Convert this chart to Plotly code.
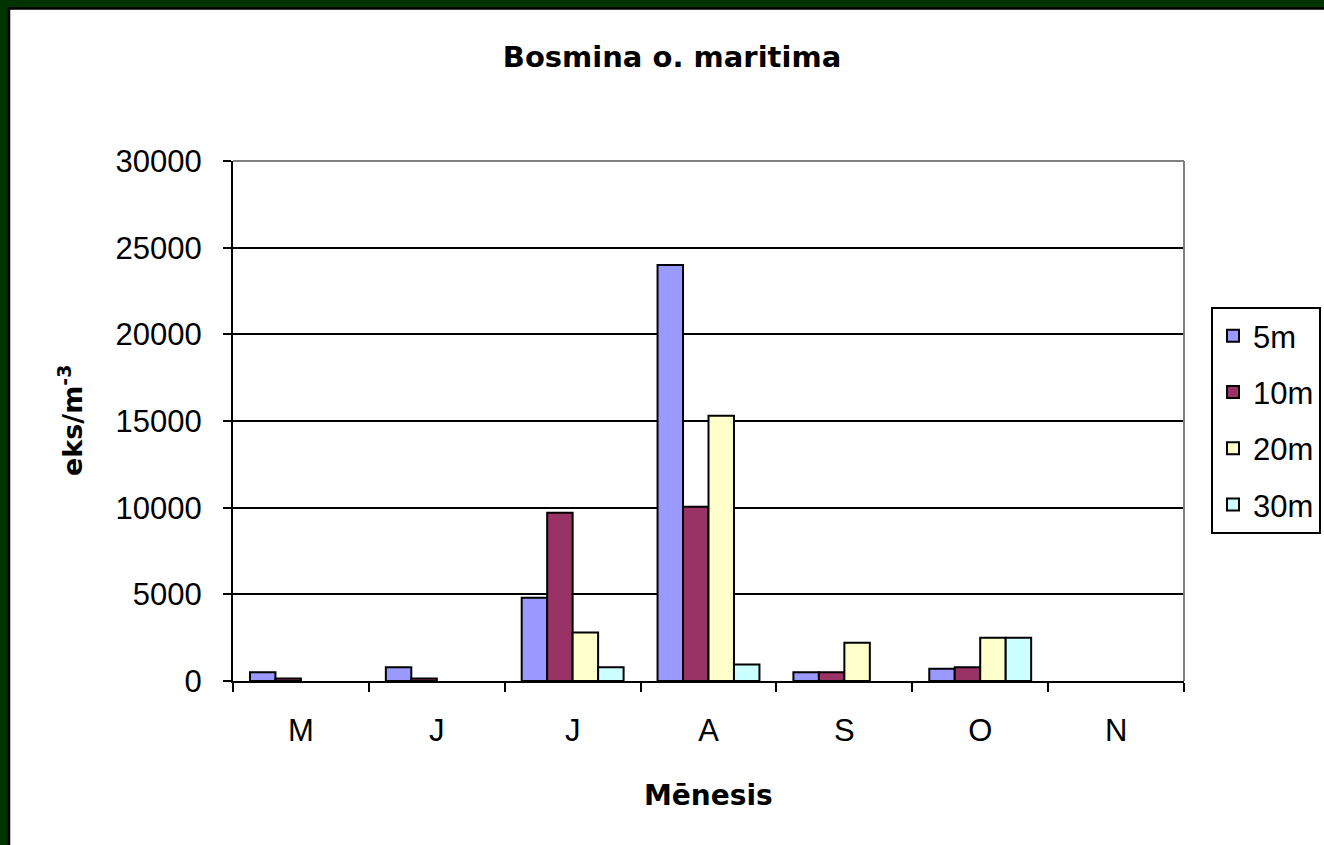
import plotly.graph_objects as go

months = ["M", "J", "J", "A", "S", "O", "N"]
series_names = ["5m", "10m", "20m", "30m"]
v5 = [500, 800, 4800, 24000, 500, 700, 0]
v10 = [150, 150, 9700, 10050, 500, 800, 0]
v20 = [0, 0, 2800, 15300, 2200, 2500, 0]
v30 = [0, 0, 800, 950, 0, 2500, 0]
colors = ["#9999FF", "#993366", "#FFFFCC", "#CCFFFF"]
yticks = [0, 5000, 10000, 15000, 20000, 25000, 30000]

W, H = 1324, 845
L, R, T, B = 233, 1184, 161, 681
pw, ph = R - L, B - T

def px(x):
    return (x - L) / pw

def py(y):
    return (B - y) / ph

FONT = "Liberation Sans, Arial, sans-serif"
BFONT = "DejaVu Sans, Liberation Sans, sans-serif"
xs = list(range(len(months)))

fig = go.Figure()
for i, (name, vals) in enumerate(zip(series_names, [v5, v10, v20, v30])):
    # put non-zero points first so the legend swatch takes the outlined style
    order = sorted(range(len(vals)), key=lambda k: vals[k] == 0)
    fig.add_trace(go.Bar(
        x=[xs[k] for k in order], y=[vals[k] for k in order],
        name=name, legendgroup=name,
        marker=dict(color=colors[i],
                    line=dict(color="black",
                              width=[2 if vals[k] > 0 else 0 for k in order])),
    ))

fig.update_layout(
    width=W, height=H,
    margin=dict(l=L, r=W - R, t=T, b=H - B, autoexpand=False),
    paper_bgcolor="#003300",
    plot_bgcolor="white",
    barmode="group",
    bargap=0.25,
    bargroupgap=0,
    font=dict(family=FONT, size=31, color="black"),
    title=dict(text="<b>Bosmina o. maritima</b>", x=672 / W, xref="container",
               xanchor="center", y=1 - 57 / H, yanchor="middle",
               font=dict(family=BFONT, size=29, color="black")),
    showlegend=True,
    legend=dict(x=px(1211), y=py(307), xanchor="left", yanchor="top",
                bordercolor="black", borderwidth=2, bgcolor="white",
                traceorder="grouped", tracegroupgap=13,
                font=dict(family=FONT, size=31, color="black")),
    xaxis=dict(
        range=[-0.5, 6.5], tickvals=xs, ticktext=months, ticks="",
        showline=True, linecolor="black", linewidth=2, showgrid=False,
        zeroline=False, ticklabelstandoff=21,
        minor=dict(tick0=-0.5, dtick=1, ticks="outside", ticklen=9,
                   tickcolor="black", tickwidth=2, showgrid=False),
        fixedrange=True,
    ),
    yaxis=dict(
        range=[0, 30000], tickvals=yticks, tickformat="d",
        ticks="outside", ticklen=8, tickcolor="black", tickwidth=2,
        showline=True, linecolor="black", linewidth=2,
        showgrid=True, gridcolor="black", gridwidth=2, zeroline=False,
        ticklabelstandoff=15, fixedrange=True,
    ),
    shapes=[
        dict(type="rect", xref="paper", yref="paper", layer="below",
             x0=px(9), x1=px(1400), y0=py(900), y1=py(8.5),
             fillcolor="white", line=dict(color="black", width=2.5)),
        dict(type="line", xref="paper", yref="paper", layer="above",
             x0=0, x1=1, y0=1, y1=1, line=dict(color="#808080", width=2)),
        dict(type="line", xref="paper", yref="paper", layer="above",
             x0=1, x1=1, y0=0, y1=1, line=dict(color="#808080", width=2)),
    ],
    annotations=[
        dict(text="<b>Mēnesis</b>", xref="paper", yref="paper",
             x=px(708), y=py(795), xanchor="center", yanchor="middle",
             showarrow=False, font=dict(family=BFONT, size=28, color="black")),
        dict(text="<b>eks/m<sup>-3</sup></b>", xref="paper", yref="paper",
             x=px(70), y=py(421), xanchor="center", yanchor="middle",
             textangle=-90, showarrow=False,
             font=dict(family=BFONT, size=27, color="black")),
    ],
)

fig.write_html(
    "out.html",
    config={"displayModeBar": False},
    post_script="document.body.style.margin='0';document.body.style.overflow='hidden';",
)
